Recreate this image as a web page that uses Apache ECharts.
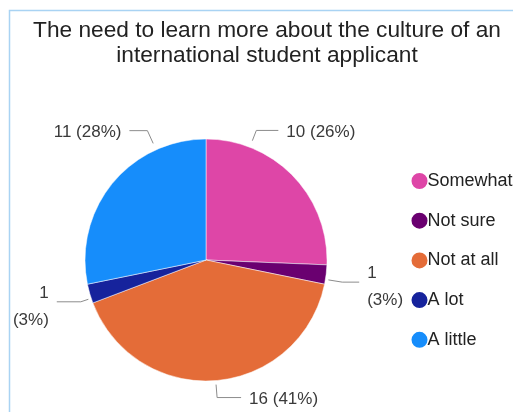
<!DOCTYPE html>
<html>
<head>
<meta charset="utf-8">
<script src="https://cdn.jsdelivr.net/npm/echarts@6/dist/echarts.min.js"></script>
<style>
  html, body { margin: 0; padding: 0; background: #fff; }
  #chart { width: 513px; height: 412px; }
</style>
</head>
<body>
<div id="chart"></div>
<script>
// Survey answers and their response counts
const categories = ['Somewhat', 'Not sure', 'Not at all', 'A lot', 'A little'];
const counts = [10, 1, 16, 1, 11];
const sliceColors = ['#de46a7', '#6a0070', '#e46c38', '#16239c', '#168dfb'];

const titleText = 'The need to learn more about the culture of an\ninternational student applicant';

// Pie geometry (px)
const pieCenter = [206, 260];
const pieRadius = 121;

// Leader lines: where each line leaves its slice (fraction along the arc),
// radial distances of its start and elbow beyond the rim, and horizontal run.
const leaderAnchor = [0.23, 0.75, 0.5, 0.25, 0.76];
const leaderStart = [7, 3, 4, 3, 7];
const leaderElbow = [18, 17, 17, 11, 21];
const leaderRun = [22, 17, 24, 24, 18];
const labelGap = 8;

const total = counts.reduce((a, b) => a + b, 0);
const startFrac = [];
counts.reduce((acc, v, i) => { startFrac[i] = acc / total; return acc + v; }, 0);

function pointAt(deg, dist) {
  const r = deg * Math.PI / 180;
  return [pieCenter[0] + dist * Math.sin(r), pieCenter[1] - dist * Math.cos(r)];
}

const chart = echarts.init(document.getElementById('chart'), null, { renderer: 'canvas' });

chart.setOption({
  backgroundColor: '#ffffff',
  animation: false,
  title: {
    text: titleText,
    left: 267,
    top: 18,
    textAlign: 'center',
    padding: 0,
    textStyle: {
      fontFamily: 'Liberation Sans, Arial, sans-serif',
      fontSize: 22.7,
      fontWeight: 'normal',
      color: '#222222',
      lineHeight: 25
    }
  },
  graphic: [{
    type: 'rect',
    silent: true,
    shape: { x: 9.5, y: 10.5, width: 700, height: 600 },
    style: { fill: 'none', stroke: '#a9d3f3', lineWidth: 1.5 }
  }],
  legend: {
    orient: 'vertical',
    left: 409.5,
    top: 171,
    icon: 'circle',
    itemWidth: 18,
    itemHeight: 18,
    itemGap: 19.7,
    padding: 0,
    data: categories,
    textStyle: {
      fontFamily: 'Liberation Sans, Arial, sans-serif',
      fontSize: 18,
      color: '#222222',
      padding: [0, 0, 0, -6]
    }
  },
  series: [{
    type: 'pie',
    center: pieCenter,
    radius: pieRadius,
    startAngle: 90,
    clockwise: true,
    avoidLabelOverlap: false,
    itemStyle: { borderColor: '#ffffff', borderWidth: 0.5 },
    label: {
      show: true,
      position: 'outside',
      fontFamily: 'Liberation Sans, Arial, sans-serif',
      fontSize: 17,
      color: '#3a3a3a',
      lineHeight: 27,
      formatter: function (p) {
        const pct = Math.round(p.value / total * 100);
        return p.value / total < 0.05 ? p.value + '\n(' + pct + '%)' : p.value + ' (' + pct + '%)';
      }
    },
    labelLine: {
      show: true,
      lineStyle: { color: '#8c8c8c', width: 1 }
    },
    labelLayout: function (params) {
      const i = params.dataIndex;
      const a0 = startFrac[i] * 360;
      const span = counts[i] / total * 360;
      const deg = a0 + span * leaderAnchor[i];
      const p0 = pointAt(deg, pieRadius + leaderStart[i]);
      const p1 = pointAt(deg, pieRadius + leaderElbow[i]);
      const right = Math.sin(deg * Math.PI / 180) >= 0;
      const p2 = [p1[0] + (right ? leaderRun[i] : -leaderRun[i]), p1[1]];
      const twoLine = counts[i] / total < 0.05;
      return {
        x: p2[0] + (right ? labelGap : -labelGap),
        y: p2[1] + (twoLine ? 5 : 2),
        align: right ? 'left' : 'right',
        verticalAlign: 'middle',
        labelLinePoints: [p0, p1, p2]
      };
    },
    data: categories.map((name, i) => ({
      name: name,
      value: counts[i],
      itemStyle: { color: sliceColors[i] }
    }))
  }]
});
</script>
</body>
</html>
